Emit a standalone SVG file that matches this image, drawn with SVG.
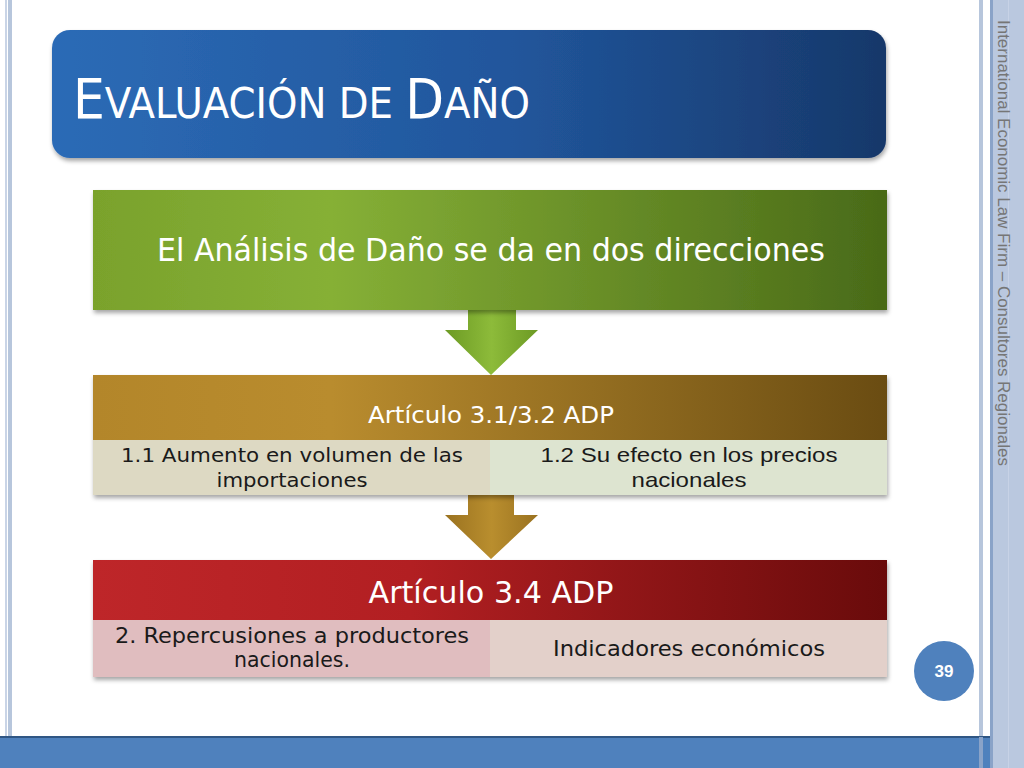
<svg xmlns="http://www.w3.org/2000/svg" width="1024" height="768" viewBox="0 0 1024 768">
<style>
.t{font-family:"DejaVu Sans Condensed","DejaVu Sans",sans-serif;}
.a{font-family:"Liberation Sans",Arial,sans-serif;}
.w{fill:#ffffff;}
.d{fill:#1a1a1a;}
</style>
<defs>
<linearGradient id="gBlue" x1="0" y1="0" x2="1" y2="0"><stop offset="0" stop-color="#2c6bb6"/><stop offset="0.55" stop-color="#21569c"/><stop offset="1" stop-color="#17386a"/></linearGradient>
<linearGradient id="gGreen" x1="0" y1="0" x2="1" y2="0"><stop offset="0" stop-color="#7aa22c"/><stop offset="0.3" stop-color="#86b036"/><stop offset="1" stop-color="#496a18"/></linearGradient>
<linearGradient id="gGold" x1="0" y1="0" x2="1" y2="0"><stop offset="0" stop-color="#b3862a"/><stop offset="0.3" stop-color="#b98c2e"/><stop offset="1" stop-color="#6a4c12"/></linearGradient>
<linearGradient id="gRed" x1="0" y1="0" x2="1" y2="0"><stop offset="0" stop-color="#be2629"/><stop offset="0.4" stop-color="#b21f22"/><stop offset="1" stop-color="#690b0b"/></linearGradient>
<linearGradient id="gArG" x1="0" y1="0" x2="1" y2="0"><stop offset="0" stop-color="#6c9a24"/><stop offset="0.5" stop-color="#8dbb3a"/><stop offset="1" stop-color="#6c9a24"/></linearGradient>
<linearGradient id="gArO" x1="0" y1="0" x2="1" y2="0"><stop offset="0" stop-color="#9a7220"/><stop offset="0.5" stop-color="#b98e2e"/><stop offset="1" stop-color="#9a7220"/></linearGradient>
<filter id="sh" x="-5%" y="-10%" width="110%" height="130%"><feDropShadow dx="1" dy="3" stdDeviation="2" flood-color="#000" flood-opacity="0.35"/></filter>
</defs>
<rect width="1024" height="768" fill="#ffffff"/>
<rect x="5" y="0" width="2" height="737" fill="#c9d4e6"/>
<rect x="8" y="0" width="4" height="737" fill="#b7c6dc"/>
<rect x="979" y="0" width="4" height="768" fill="#b7c6dc"/>
<rect x="990" y="0" width="3" height="768" fill="#8aa3c8"/>
<rect x="993" y="0" width="31" height="768" fill="#bac8df"/>
<rect x="1008" y="0" width="1" height="768" fill="#c7d2e6"/>
<rect x="0" y="737" width="990" height="31" fill="#4f81bd"/>
<rect x="0" y="736" width="990" height="2" fill="#2f5684"/>
<rect x="979" y="737" width="4" height="31" fill="#8aa3c8"/>
<text class="a" transform="translate(998,20) rotate(90)" font-size="16" fill="#767676" textLength="446" lengthAdjust="spacingAndGlyphs">International Economic Law Firm – Consultores Regionales</text>
<g id="title">
<rect x="52" y="30" width="834" height="128" rx="18" fill="url(#gBlue)" filter="url(#sh)"/>
<text class="t w" x="73" y="118" font-size="56" textLength="457" lengthAdjust="spacingAndGlyphs">E<tspan font-size="43">VALUACIÓN DE </tspan>D<tspan font-size="43">AÑO</tspan></text>
</g>
<g id="connectors">
<path d="M468,300 H516 V330 H538 L491,375 L445,330 H468 Z" fill="url(#gArG)"/>
<path d="M468,490 H514 V515 H538 L491,559 L445,515 H468 Z" fill="url(#gArO)"/>
</g>
<g id="n1">
<rect x="93" y="190" width="794" height="120" fill="url(#gGreen)" filter="url(#sh)"/>
<text class="t w" x="491" y="261" font-size="32" text-anchor="middle" textLength="668" lengthAdjust="spacingAndGlyphs">El Análisis de Daño se da en dos direcciones</text>
</g>
<g id="n2">
<rect x="93" y="375" width="794" height="120" fill="#ddd9c3" filter="url(#sh)"/>
<rect x="93" y="375" width="794" height="65" fill="url(#gGold)"/>
<rect x="490" y="440" width="397" height="55" fill="#dde4d0"/>
<text class="t w" x="491" y="423" font-size="23" text-anchor="middle" textLength="246" lengthAdjust="spacingAndGlyphs">Artículo 3.1/3.2 ADP</text>
<text class="t d" x="292" y="462" font-size="20" text-anchor="middle" textLength="342" lengthAdjust="spacingAndGlyphs">1.1 Aumento en volumen de las</text>
<text class="t d" x="292" y="487" font-size="20" text-anchor="middle" textLength="151" lengthAdjust="spacingAndGlyphs">importaciones</text>
<text class="a d" x="689" y="462" font-size="21" text-anchor="middle" textLength="297" lengthAdjust="spacingAndGlyphs">1.2 Su efecto en los precios</text>
<text class="a d" x="689" y="487" font-size="21" text-anchor="middle" textLength="115" lengthAdjust="spacingAndGlyphs">nacionales</text>
</g>
<g id="n3">
<rect x="93" y="560" width="794" height="117" fill="#e0bdbf" filter="url(#sh)"/>
<rect x="93" y="560" width="794" height="60" fill="url(#gRed)"/>
<rect x="490" y="620" width="397" height="57" fill="#e3d0ca"/>
<text class="t w" x="491" y="603" font-size="31" text-anchor="middle" textLength="245" lengthAdjust="spacingAndGlyphs">Artículo 3.4 ADP</text>
<text class="t d" x="292" y="643" font-size="22" text-anchor="middle" textLength="354" lengthAdjust="spacingAndGlyphs">2. Repercusiones a productores</text>
<text class="t d" x="292" y="667" font-size="22" text-anchor="middle" textLength="116" lengthAdjust="spacingAndGlyphs">nacionales.</text>
<text class="t d" x="689" y="656" font-size="22" text-anchor="middle" textLength="272" lengthAdjust="spacingAndGlyphs">Indicadores económicos</text>
</g>
<g id="page">
<circle cx="944" cy="671" r="30" fill="#4f81bd"/>
<text class="a" x="944" y="677" font-size="17" font-weight="bold" fill="#ffffff" text-anchor="middle">39</text>
</g>
</svg>
